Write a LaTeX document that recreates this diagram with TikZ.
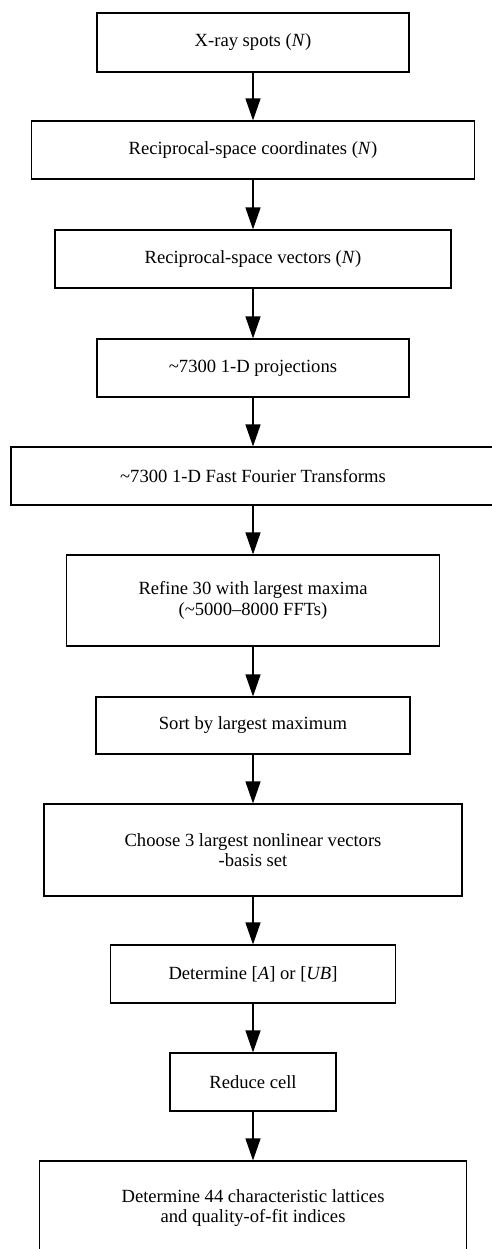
\documentclass[tikz,border=0pt]{standalone}
\usepackage{fontspec}
\setmainfont{Liberation Serif}
\usepackage{tikz}
\usetikzlibrary{arrows.meta, positioning}

\tikzset{
  procbox/.style={draw, line width=1.1pt, align=center, anchor=center, inner sep=0pt,
    font=\fontsize{18.6}{20.5}\selectfont},
  flow/.style={line width=1.3pt, -{Triangle[width=15pt,length=22pt]}}
}

\begin{document}
\begin{tikzpicture}[x=1pt,y=-1pt]
  \clip (0,0) rectangle (492,1249);
  % Boxes
  \node[procbox, minimum width=312pt, minimum height=59pt] (spots) at (253,42.5) {X-ray spots (\textit{N})};
  \node[procbox, minimum width=443pt, minimum height=58pt] (coords) at (253,150) {Reciprocal-space coordinates (\textit{N})};
  \node[procbox, minimum width=396pt, minimum height=58pt] (vecs) at (253,259) {Reciprocal-space vectors (\textit{N})};
  \node[procbox, minimum width=312pt, minimum height=58pt] (proj) at (253,368) {\textasciitilde7300 1-D projections};
  \node[procbox, minimum width=484pt, minimum height=58pt] (ffts) at (253,476) {\textasciitilde7300 1-D Fast Fourier Transforms};
  \node[procbox, minimum width=373pt, minimum height=91pt] (refine) at (253,600.5) {Refine 30 with largest maxima\\(\textasciitilde5000--8000 FFTs)};
  \node[procbox, minimum width=314pt, minimum height=57pt] (sort) at (253,725.5) {Sort by largest maximum};
  \node[procbox, minimum width=418pt, minimum height=92pt] (basis) at (253,850) {Choose 3 largest nonlinear vectors\\-basis set};
  \node[procbox, minimum width=285pt, minimum height=58pt] (matA) at (253,974) {Determine [\textit{A}] or [\textit{UB}]};
  \node[procbox, minimum width=166pt, minimum height=58pt] (reduce) at (253,1082) {Reduce cell};
  \node[procbox, minimum width=427pt, minimum height=94pt] (lattices) at (253,1208) {Determine 44 characteristic lattices\\and quality-of-fit indices};
  % Arrows
  \foreach \a/\b in {spots/coords, coords/vecs, vecs/proj, proj/ffts, ffts/refine,
      refine/sort, sort/basis, basis/matA, matA/reduce, reduce/lattices}
    \draw[flow] (\a.south) -- (\b.north);
\end{tikzpicture}
\end{document}
